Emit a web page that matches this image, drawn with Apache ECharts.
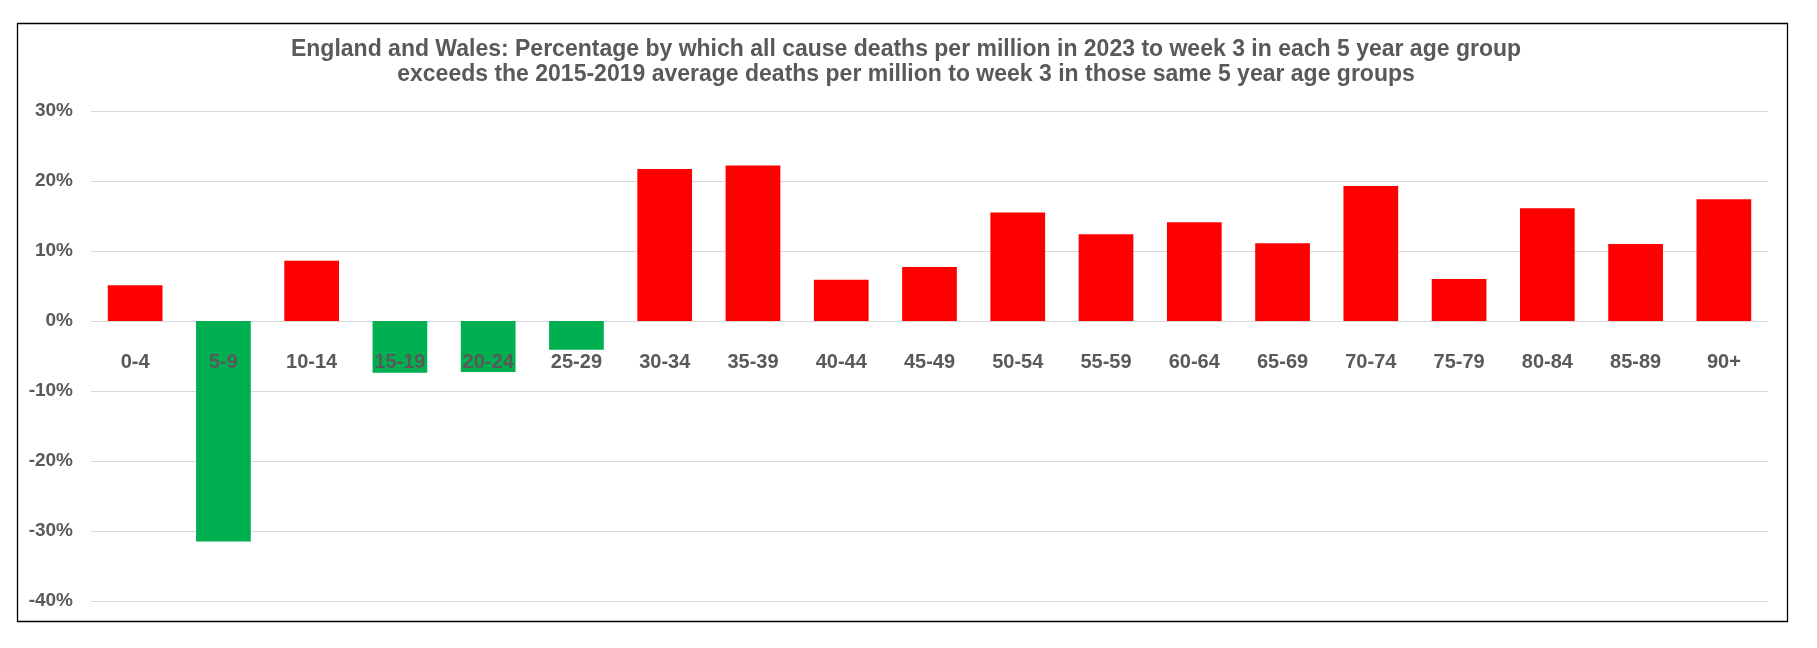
<!DOCTYPE html>
<html>
<head>
<meta charset="utf-8">
<script src="https://cdn.jsdelivr.net/npm/echarts@6/dist/echarts.min.js"></script>
<style>
html,body{margin:0;padding:0;background:#fff;}
#c{width:1817px;height:648px;}
</style>
</head>
<body>
<div id="c"></div>
<script>
const titleLines = [
  "England and Wales: Percentage by which all cause deaths per million in 2023 to week 3 in each 5 year age group",
  "exceeds the 2015-2019 average deaths per million to week 3 in those same 5 year age groups"
];
const categories = ["0-4","5-9","10-14","15-19","20-24","25-29","30-34","35-39","40-44","45-49","50-54","55-59","60-64","65-69","70-74","75-79","80-84","85-89","90+"];
const excessPct = [5.1,-31.5,8.6,-7.4,-7.3,-4.1,21.7,22.2,5.9,7.7,15.5,12.4,14.1,11.1,19.3,6.0,16.1,11.0,17.4];
const yTicks = {min:-40, max:30, interval:10};

const FONT = "'Liberation Sans', Arial, sans-serif";
const GREY = "#595959";
const chart = echarts.init(document.getElementById('c'), null, {renderer:'canvas'});
chart.setOption({
  backgroundColor:'#fff',
  animation:false,
  title:{
    text: titleLines.join("\n"),
    left: 906, top: 37, textAlign:'center', padding:0,
    textStyle:{fontFamily:FONT, fontSize:23, fontWeight:'bold', color:GREY, lineHeight:25}
  },
  graphic:[{type:'rect', shape:{x:17.5,y:23.5,width:1770,height:598}, style:{fill:null, stroke:'#000', lineWidth:1.3}, z:100}],
  grid:{left:91, right:49, top:111, bottom:47},
  xAxis:{
    type:'category', data:categories, z:10,
    axisLine:{show:false, onZero:false}, axisTick:{show:false},
    axisLabel:{fontFamily:FONT, fontSize:20, fontWeight:'bold', color:GREY, margin:30}
  },
  yAxis:{
    type:'value', min:yTicks.min, max:yTicks.max, interval:yTicks.interval,
    axisLine:{show:false}, axisTick:{show:false},
    splitLine:{lineStyle:{color:'#d9d9d9', width:1}},
    axisLabel:{fontFamily:FONT, fontSize:19, fontWeight:'bold', color:GREY, margin:18, formatter: v => v + '%'}
  },
  series:[{
    type:'bar', data:excessPct, barWidth:'62%',
    itemStyle:{color: p => p.value < 0 ? '#00B050' : '#FF0000'}
  }]
});
// move the category labels up to the zero line
const yZero = chart.convertToPixel({yAxisIndex:0}, 0);
const yMin = chart.convertToPixel({yAxisIndex:0}, yTicks.min);
chart.setOption({xAxis:{offset: yZero - yMin}});
</script>
</body>
</html>
